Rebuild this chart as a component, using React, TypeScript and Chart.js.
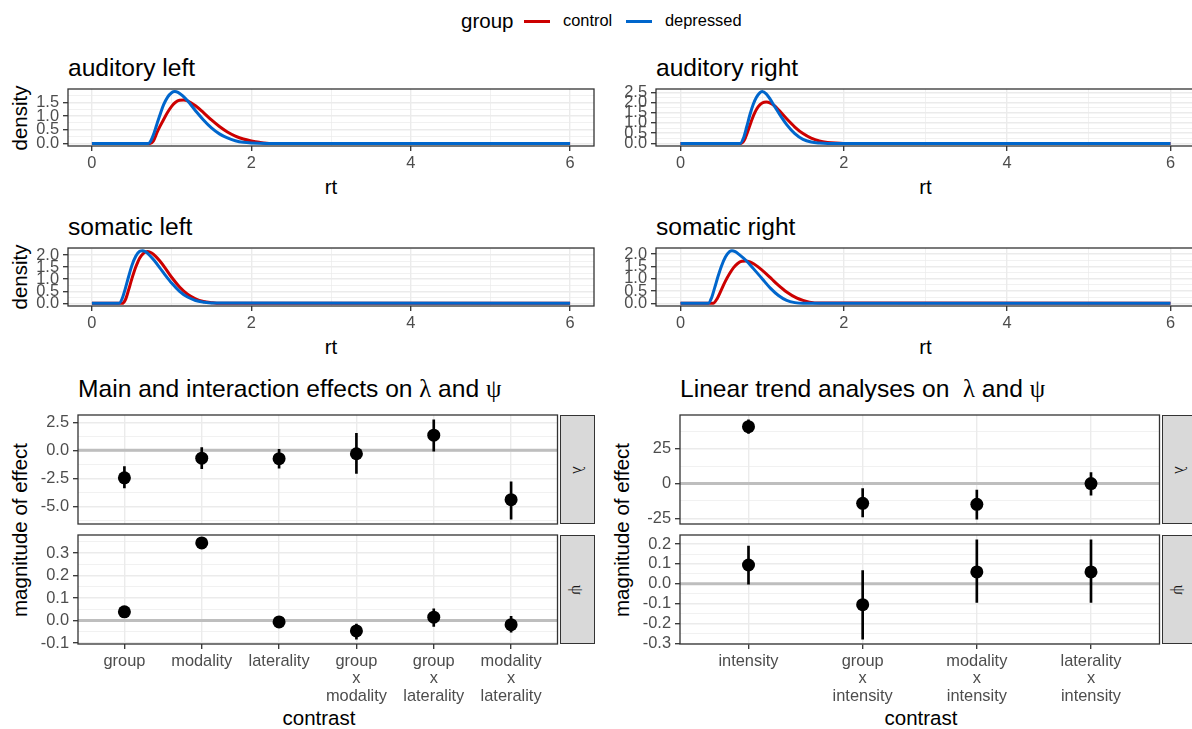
import React, { useEffect, useRef } from "react";
import { Chart, registerables } from "chart.js";

Chart.register(...registerables);

const SANS = "'Liberation Sans', Arial, Helvetica, sans-serif";
const SERIF = "'Liberation Serif', 'DejaVu Serif', serif";

/* ---------------- data ---------------- */

const legendTitle = "group";
const groupLabels = ["control", "depressed"];
const rtLimits = [0, 6];

// auditory left
const audLeftControlRt = [0, 0.73, 0.77, 0.82, 0.86, 0.9, 0.95, 1.0, 1.05, 1.1, 1.15, 1.2, 1.3, 1.4, 1.5, 1.6, 1.7, 1.8, 1.9, 2.0, 2.1, 2.25, 6];
const audLeftControlDensity = [0, 0, 0.08, 0.42, 0.66, 0.88, 1.14, 1.36, 1.51, 1.58, 1.59, 1.56, 1.38, 1.13, 0.86, 0.62, 0.42, 0.27, 0.16, 0.09, 0.04, 0, 0];
const audLeftDepressedRt = [0, 0.71, 0.74, 0.78, 0.82, 0.86, 0.9, 0.95, 1.0, 1.04, 1.08, 1.14, 1.2, 1.3, 1.4, 1.5, 1.6, 1.7, 1.8, 1.9, 2.0, 2.2, 6];
const audLeftDepressedDensity = [0, 0, 0.1, 0.38, 0.75, 1.1, 1.42, 1.7, 1.86, 1.9, 1.87, 1.74, 1.56, 1.2, 0.86, 0.57, 0.35, 0.2, 0.1, 0.04, 0.015, 0, 0];

// auditory right
const audRightControlRt = [0, 0.74, 0.78, 0.82, 0.86, 0.9, 0.95, 1.0, 1.05, 1.1, 1.15, 1.2, 1.3, 1.4, 1.5, 1.6, 1.7, 1.8, 1.9, 2.0, 6];
const audRightControlDensity = [0, 0, 0.15, 0.55, 1.0, 1.42, 1.78, 1.97, 2.02, 1.97, 1.84, 1.64, 1.2, 0.8, 0.48, 0.26, 0.12, 0.05, 0.015, 0, 0];
const audRightDepressedRt = [0, 0.73, 0.77, 0.81, 0.85, 0.89, 0.93, 0.97, 1.0, 1.05, 1.1, 1.13, 1.17, 1.22, 1.3, 1.4, 1.5, 1.6, 1.7, 1.8, 6];
const audRightDepressedDensity = [0, 0, 0.25, 0.8, 1.4, 1.9, 2.25, 2.47, 2.53, 2.42, 2.15, 1.95, 1.7, 1.38, 0.92, 0.48, 0.2, 0.07, 0.02, 0, 0];

// somatic left
const somLeftControlRt = [0, 0.38, 0.42, 0.46, 0.5, 0.55, 0.6, 0.65, 0.7, 0.75, 0.8, 0.85, 0.92, 1.0, 1.1, 1.2, 1.3, 1.4, 1.5, 1.6, 6];
const somLeftControlDensity = [0, 0, 0.15, 0.55, 1.0, 1.5, 1.88, 2.08, 2.14, 2.08, 1.94, 1.76, 1.46, 1.08, 0.68, 0.38, 0.19, 0.08, 0.03, 0, 0];
const somLeftDepressedRt = [0, 0.34, 0.38, 0.42, 0.46, 0.5, 0.55, 0.6, 0.64, 0.68, 0.72, 0.78, 0.85, 0.92, 1.0, 1.1, 1.2, 1.3, 1.4, 1.5, 6];
const somLeftDepressedDensity = [0, 0, 0.2, 0.62, 1.1, 1.55, 1.95, 2.15, 2.18, 2.12, 2.0, 1.78, 1.48, 1.17, 0.84, 0.5, 0.26, 0.12, 0.05, 0.01, 0];

// somatic right
const somRightControlRt = [0, 0.4, 0.45, 0.5, 0.55, 0.6, 0.65, 0.7, 0.75, 0.8, 0.85, 0.9, 0.95, 1.05, 1.12, 1.19, 1.3, 1.42, 1.5, 1.58, 1.7, 6];
const somRightControlDensity = [0, 0, 0.2, 0.55, 0.9, 1.2, 1.45, 1.62, 1.71, 1.72, 1.68, 1.6, 1.48, 1.2, 0.98, 0.76, 0.46, 0.22, 0.12, 0.05, 0.01, 0];
const somRightDepressedRt = [0, 0.34, 0.38, 0.42, 0.46, 0.5, 0.55, 0.6, 0.63, 0.67, 0.72, 0.8, 0.89, 1.0, 1.1, 1.2, 1.3, 1.4, 1.5, 6];
const somRightDepressedDensity = [0, 0, 0.22, 0.65, 1.1, 1.5, 1.88, 2.1, 2.14, 2.1, 1.98, 1.75, 1.42, 1.0, 0.62, 0.32, 0.12, 0.03, 0, 0];

// main and interaction effects
const mainContrasts = [["group"], ["modality"], ["laterality"], ["group", "x", "modality"], ["group", "x", "laterality"], ["modality", "x", "laterality"]];
const mainLambdaEst = [-2.44, -0.69, -0.74, -0.3, 1.35, -4.38];
const mainLambdaLow = [-3.33, -1.63, -1.58, -2.05, -0.08, -6.1];
const mainLambdaHigh = [-1.43, 0.24, 0.09, 1.52, 2.7, -2.8];
const mainPsiEst = [0.039, 0.345, -0.006, -0.046, 0.015, -0.018];
const mainPsiLow = [0.032, 0.333, -0.013, -0.082, -0.026, -0.052];
const mainPsiHigh = [0.046, 0.358, 0.001, -0.015, 0.052, 0.019];

// linear trend analyses
const trendContrasts = [["intensity"], ["group", "x", "intensity"], ["modality", "x", "intensity"], ["laterality", "x", "intensity"]];
const trendLambdaEst = [41.0, -14.2, -14.9, 0.0];
const trendLambdaLow = [36.2, -24.0, -25.5, -8.4];
const trendLambdaHigh = [45.8, -3.6, -4.6, 7.9];
const trendPsiEst = [0.095, -0.105, 0.06, 0.06];
const trendPsiLow = [-0.002, -0.278, -0.094, -0.094];
const trendPsiHigh = [0.19, 0.067, 0.221, 0.221];

/* ---------------- styling / helpers ---------------- */

const RED = "#CC0000";
const BLUE = "#0066CC";
const PAD_T = 16, PAD_B = 16, PAD_R = 4, AXW = 62;

const toPts = (xs: number[], ys: number[]) => xs.map((x, i) => ({ x, y: ys[i] }));

function gridValues(min: number, max: number, step: number): number[] {
  const out: number[] = [];
  const a = Math.ceil(min / step - 1e-9);
  const b = Math.floor(max / step + 1e-9);
  for (let k = a; k <= b; k++) {
    const v = Math.round(k * step * 1e6) / 1e6;
    out.push(v === 0 ? 0 : v);
  }
  return out;
}
const isMult = (v: number, s: number) => Math.abs(v / s - Math.round(v / s)) < 1e-6;
const expand = (lo: number, hi: number) => {
  const d = (hi - lo) * 0.05;
  return [lo - d, hi + d];
};

interface AxisSpec {
  min: number;
  max: number;
  minor: number;
  major: number;
  fmt: (v: number) => string | string[];
  show: boolean;
}

function scaleOptions(a: AxisSpec, axis: "x" | "y", size: number) {
  return {
    type: "linear",
    position: axis === "x" ? "bottom" : "left",
    min: a.min,
    max: a.max,
    bounds: "data",
    offset: false,
    afterBuildTicks: (s: any) => {
      s.ticks = gridValues(a.min, a.max, a.minor).map((value) => ({ value }));
    },
    afterFit: (s: any) => {
      if (axis === "x") s.height = size;
      else s.width = size;
    },
    grid: {
      offset: false,
      color: "#EBEBEB",
      lineWidth: (c: any) => (c.tick && isMult(c.tick.value, a.major) ? 1.4 : 0.7),
      drawTicks: a.show,
      tickLength: 5,
      tickWidth: 1.3,
      tickColor: (c: any) => (c.tick && isMult(c.tick.value, a.major) ? "#333333" : "rgba(0,0,0,0)"),
    },
    border: { display: false },
    ticks: {
      display: a.show,
      autoSkip: false,
      maxRotation: 0,
      minRotation: 0,
      padding: 4,
      color: "#4D4D4D",
      font: { family: SANS, size: 16.4, lineHeight: 1.05 },
      callback: (v: any) => (isMult(Number(v), a.major) ? a.fmt(Number(v)) : ""),
    },
  };
}

const panelPlugin = {
  id: "panelFrame",
  beforeDatasetsDraw(chart: any, _args: any, opts: any) {
    if (!opts || !opts.zeroLine) return;
    const { ctx, chartArea: ca, scales } = chart;
    const y = scales.y.getPixelForValue(0);
    ctx.save();
    ctx.strokeStyle = "#BEBEBE";
    ctx.lineWidth = 3;
    ctx.beginPath();
    ctx.moveTo(ca.left, y);
    ctx.lineTo(ca.right, y);
    ctx.stroke();
    ctx.restore();
  },
  afterDraw(chart: any) {
    const { ctx, chartArea: ca } = chart;
    ctx.save();
    ctx.strokeStyle = "#333333";
    ctx.lineWidth = 1.3;
    ctx.strokeRect(ca.left, ca.top, ca.right - ca.left, ca.bottom - ca.top);
    ctx.restore();
  },
};

function makePanelChart(canvas: HTMLCanvasElement, datasets: any[], x: AxisSpec, y: AxisSpec, axisH: number, zeroLine: boolean) {
  return new Chart(canvas, {
    type: "scatter",
    data: { datasets },
    options: {
      responsive: false,
      animation: false,
      events: [],
      layout: { padding: { top: PAD_T, bottom: PAD_B, right: PAD_R, left: 0 } },
      scales: { x: scaleOptions(x, "x", axisH), y: scaleOptions(y, "y", AXW) },
      plugins: { legend: { display: false }, tooltip: { enabled: false }, panelFrame: { zeroLine } },
    },
    plugins: [panelPlugin],
  } as any);
}

interface PanelSpec {
  L: number;
  T: number;
  R: number;
  B: number;
  axisH: number;
  make: (c: HTMLCanvasElement) => Chart;
}

const densityPanels = [
  { title: "auditory left", cRt: audLeftControlRt, cD: audLeftControlDensity, dRt: audLeftDepressedRt, dD: audLeftDepressedDensity },
  { title: "auditory right", cRt: audRightControlRt, cD: audRightControlDensity, dRt: audRightDepressedRt, dD: audRightDepressedDensity },
  { title: "somatic left", cRt: somLeftControlRt, cD: somLeftControlDensity, dRt: somLeftDepressedRt, dD: somLeftDepressedDensity },
  { title: "somatic right", cRt: somRightControlRt, cD: somRightControlDensity, dRt: somRightDepressedRt, dD: somRightDepressedDensity },
];
const densityGeom = [
  { L: 68, R: 594, T: 89, B: 146 },
  { L: 656, R: 1195, T: 89, B: 146 },
  { L: 68, R: 594, T: 248, B: 306 },
  { L: 656, R: 1195, T: 248, B: 306 },
];

function densityPanel(i: number): PanelSpec {
  const p = densityPanels[i];
  const g = densityGeom[i];
  const ymax = Math.max(...p.cD, ...p.dD);
  const xr = expand(rtLimits[0], rtLimits[1]);
  const x: AxisSpec = { min: xr[0], max: xr[1], minor: 1, major: 2, fmt: (v) => String(Math.round(v)), show: true };
  const y: AxisSpec = { min: -0.05 * ymax, max: 1.05 * ymax, minor: 0.25, major: 0.5, fmt: (v) => v.toFixed(1), show: true };
  const line = (rt: number[], d: number[], color: string, label: string) => ({
    type: "line",
    label,
    data: toPts(rt, d),
    borderColor: color,
    backgroundColor: color,
    borderWidth: 3,
    pointRadius: 0,
    fill: false,
    cubicInterpolationMode: "monotone",
  });
  return {
    ...g,
    axisH: 30,
    make: (c) =>
      makePanelChart(c, [line(p.dRt, p.dD, BLUE, groupLabels[1]), line(p.cRt, p.cD, RED, groupLabels[0])], x, y, 30, false),
  };
}

function effectPanel(
  labels: string[][], est: number[], lo: number[], hi: number[],
  g: { L: number; R: number; T: number; B: number },
  yMajor: number, fmt: (v: number) => string, showX: boolean
): PanelSpec {
  const yr = expand(Math.min(...lo, ...est), Math.max(...hi, ...est));
  const x: AxisSpec = {
    min: 0.4, max: labels.length + 0.6, minor: 1, major: 1,
    fmt: (v) => labels[Math.round(v) - 1] || "", show: showX,
  };
  const y: AxisSpec = { min: yr[0], max: yr[1], minor: yMajor / 2, major: yMajor, fmt, show: true };
  const axisH = showX ? 70 : 2;
  const datasets = [
    {
      type: "scatter",
      data: est.map((v, i) => ({ x: i + 1, y: v })),
      pointRadius: 6.5,
      pointBackgroundColor: "#000000",
      backgroundColor: "#000000",
      pointBorderWidth: 0,
      borderWidth: 0,
    },
    {
      type: "bar",
      data: est.map((_, i) => ({ x: i + 1, y: [lo[i], hi[i]] })),
      backgroundColor: "#000000",
      borderWidth: 0,
      barThickness: 2,
      grouped: false,
    },
  ];
  return { ...g, axisH, make: (c) => makePanelChart(c, datasets, x, y, axisH, true) };
}

const fmt1 = (v: number) => (Math.abs(v) < 1e-9 ? 0 : v).toFixed(1);
const fmt0 = (v: number) => String(Math.round(v));

const COL_L = { L: 78, R: 560 };
const COL_R = { L: 680, R: 1162 };
const ROW_LAMBDA = { T: 415, B: 524 };
const ROW_PSI = { T: 535, B: 644 };

const panels: PanelSpec[] = [
  densityPanel(0),
  densityPanel(1),
  densityPanel(2),
  densityPanel(3),
  effectPanel(mainContrasts, mainLambdaEst, mainLambdaLow, mainLambdaHigh, { ...COL_L, ...ROW_LAMBDA }, 2.5, fmt1, false),
  effectPanel(mainContrasts, mainPsiEst, mainPsiLow, mainPsiHigh, { ...COL_L, ...ROW_PSI }, 0.1, fmt1, true),
  effectPanel(trendContrasts, trendLambdaEst, trendLambdaLow, trendLambdaHigh, { ...COL_R, ...ROW_LAMBDA }, 25, fmt0, false),
  effectPanel(trendContrasts, trendPsiEst, trendPsiLow, trendPsiHigh, { ...COL_R, ...ROW_PSI }, 0.1, fmt1, true),
];

/* ---------------- text helpers ---------------- */

const Txt = (props: { x: number; cy: number; size: number; center?: boolean; color?: string; children: any }) => (
  <div
    style={{
      position: "absolute",
      left: props.x,
      top: props.cy - props.size * 0.6,
      fontFamily: SANS,
      fontSize: props.size,
      lineHeight: props.size * 1.2 + "px",
      whiteSpace: "pre",
      color: props.color || "#000000",
      transform: props.center ? "translateX(-50%)" : undefined,
    }}
  >
    {props.children}
  </div>
);

const VTxt = (props: { cx: number; cy: number; size: number; children: any }) => (
  <div
    style={{
      position: "absolute",
      left: props.cx,
      top: props.cy,
      fontFamily: SANS,
      fontSize: props.size,
      lineHeight: props.size * 1.2 + "px",
      whiteSpace: "pre",
      color: "#000000",
      transform: "translate(-50%, -50%) rotate(-90deg)",
    }}
  >
    {props.children}
  </div>
);

const Greek = (props: { children: any }) => <span style={{ fontFamily: SERIF }}>{props.children}</span>;

const Strip = (props: { L: number; T: number; B: number; label: string }) => (
  <div
    style={{
      position: "absolute",
      left: props.L,
      top: props.T,
      width: 35,
      height: props.B - props.T,
      background: "#D9D9D9",
      border: "1.3px solid #333333",
      boxSizing: "border-box",
      display: "flex",
      alignItems: "center",
      justifyContent: "center",
    }}
  >
    <span style={{ fontFamily: SERIF, fontSize: 16.4, color: "#1A1A1A", transform: "rotate(90deg)", display: "inline-block" }}>
      {props.label}
    </span>
  </div>
);

export default function App() {
  const refs = useRef<(HTMLCanvasElement | null)[]>([]);

  useEffect(() => {
    const charts: Chart[] = [];
    panels.forEach((p, i) => {
      const c = refs.current[i];
      if (c) charts.push(p.make(c));
    });
    return () => charts.forEach((ch) => ch.destroy());
  }, []);

  return (
    <div style={{ position: "absolute", left: 0, top: 0, width: 1192, height: 729, overflow: "hidden", background: "#FFFFFF" }}>
      {/* legend */}
      <Txt x={461} cy={21} size={20.5}>{legendTitle}</Txt>
      <div style={{ position: "absolute", left: 524, top: 19.5, width: 26, height: 3, background: RED }} />
      <Txt x={563} cy={21} size={16.4}>{groupLabels[0]}</Txt>
      <div style={{ position: "absolute", left: 626, top: 19.5, width: 26, height: 3, background: BLUE }} />
      <Txt x={665} cy={21} size={16.4}>{groupLabels[1]}</Txt>

      {/* density panel titles and axis titles */}
      {densityPanels.map((p, i) => (
        <Txt key={"t" + i} x={densityGeom[i].L} cy={densityGeom[i].T - 21} size={24.6}>{p.title}</Txt>
      ))}
      {densityGeom.map((g, i) => (
        <Txt key={"rt" + i} x={(g.L + g.R) / 2} cy={g.B + 41} size={20.5} center>rt</Txt>
      ))}
      <VTxt cx={20} cy={117.5} size={20.5}>density</VTxt>
      <VTxt cx={20} cy={277} size={20.5}>density</VTxt>

      {/* effect panel titles */}
      <Txt x={78} cy={389} size={24.6}>
        Main and interaction effects on <Greek>λ</Greek> and <Greek>ψ</Greek>
      </Txt>
      <Txt x={680} cy={389} size={24.6}>
        Linear trend analyses on  <Greek>λ</Greek> and <Greek>ψ</Greek>
      </Txt>
      <VTxt cx={20} cy={529.5} size={20.5}>magnitude of effect</VTxt>
      <VTxt cx={622} cy={529.5} size={20.5}>magnitude of effect</VTxt>
      <Txt x={(COL_L.L + COL_L.R) / 2} cy={718} size={20.5} center>contrast</Txt>
      <Txt x={(COL_R.L + COL_R.R) / 2} cy={718} size={20.5} center>contrast</Txt>

      {/* strips */}
      <Strip L={COL_L.R} T={ROW_LAMBDA.T} B={ROW_LAMBDA.B} label="λ" />
      <Strip L={COL_L.R} T={ROW_PSI.T} B={ROW_PSI.B} label="ψ" />
      <Strip L={COL_R.R} T={ROW_LAMBDA.T} B={ROW_LAMBDA.B} label="λ" />
      <Strip L={COL_R.R} T={ROW_PSI.T} B={ROW_PSI.B} label="ψ" />

      {/* chart canvases */}
      {panels.map((p, i) => {
        const left = p.L - AXW;
        const top = p.T - PAD_T;
        const w = p.R - p.L + AXW + PAD_R;
        const h = p.B - p.T + PAD_T + p.axisH + PAD_B;
        return (
          <canvas
            key={"c" + i}
            ref={(el) => {
              refs.current[i] = el;
            }}
            width={w}
            height={h}
            style={{ position: "absolute", left, top, width: w, height: h }}
          />
        );
      })}
    </div>
  );
}
